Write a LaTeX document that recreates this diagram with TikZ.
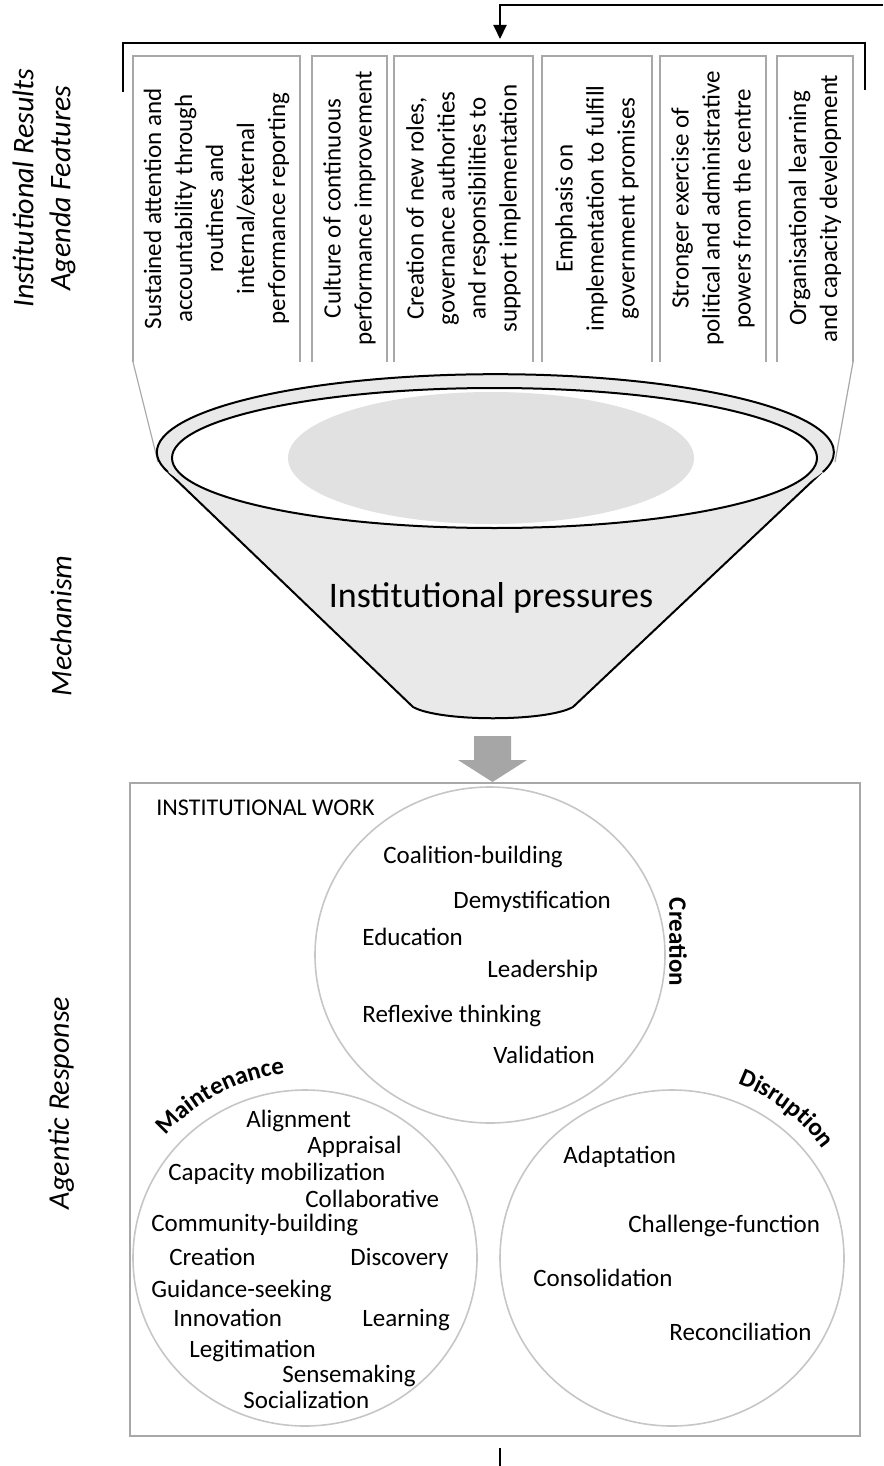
\documentclass[tikz,border=0pt]{standalone}
\usepackage{fontspec}
\setmainfont{Carlito}
\usetikzlibrary{arrows.meta,decorations.text}

\definecolor{funnelfill}{HTML}{E9E9E9}
\definecolor{poolfill}{HTML}{E1E1E1}
\definecolor{boxline}{HTML}{A8A8A8}
\definecolor{ringline}{HTML}{C6C6C6}
\definecolor{pushgray}{HTML}{A6A6A6}

\tikzset{
  featbox/.style={draw=boxline, line width=1pt},
  feattext/.style={rotate=90, align=center, inner sep=0pt,
    font=\fontsize{12.5}{15.5}\selectfont},
  rowlabel/.style={rotate=90, align=center, inner sep=0pt,
    font=\fontsize{15}{18.5}\selectfont\itshape},
  work/.style={anchor=base west, inner sep=0pt,
    font=\fontsize{12.5}{15}\selectfont},
  ring/.style={draw=ringline, line width=0.8pt},
  arclabel/.style={decorate, decoration={text along path, text align=center,
    text={|\fontsize{12.5}{15}\selectfont\bfseries|#1}}},
}

\begin{document}
\begin{tikzpicture}[x=0.5pt, y=0.5pt]
  \useasboundingbox (0,0) rectangle (883,-1466);

  \def\boxTop{-56}
  \def\boxBot{-362}
  \def\boxMid{-208.5}

  % feedback line coming back into the bracket
  \coordinate (loop) at (883,-5);
  \coordinate (brkin) at (500,-39);
  \draw[line width=1pt, -{Triangle[length=7pt,width=6.5pt]}] (loop) -| (brkin);

  % bracket over the feature boxes
  \draw[line width=1.3pt] (123,-92) |- (865,-43) -- (865,-90);

  % row labels
  \node[rowlabel] (lblres) at (44,-188) {Institutional Results\\Agenda Features};
  \node[rowlabel] (lblmech) at (61,-626) {Mechanism};
  \node[rowlabel] (lblagent) at (61,-1103) {Agentic Response};

  % agenda features (open at the bottom)
  \draw[featbox] (133,\boxBot) |- (300,\boxTop) -- (300,\boxBot);
  \node[feattext] (feat1) at (216.5,\boxMid)
    {Sustained attention and\\accountability through\\routines and\hspace*{1.9em}\\internal/external\hspace*{2.6em}\\performance reporting};
  \draw[featbox] (312,\boxBot) |- (387,\boxTop) -- (387,\boxBot);
  \node[feattext] (feat2) at (349.5,\boxMid)
    {Culture of continuous\\performance improvement};
  \draw[featbox] (394,\boxBot) |- (533,\boxTop) -- (533,\boxBot);
  \node[feattext] (feat3) at (463.5,\boxMid)
    {Creation of new roles,\\governance authorities\\and responsibilities to\\support implementation};
  \draw[featbox] (542,\boxBot) |- (652,\boxTop) -- (652,\boxBot);
  \node[feattext] (feat4) at (597,\boxMid)
    {Emphasis on\\implementation to fulfill\\government promises};
  \draw[featbox] (660,\boxBot) |- (766,\boxTop) -- (766,\boxBot);
  \node[feattext] (feat5) at (713,\boxMid)
    {Stronger exercise of\\political and administrative\\powers from the centre};
  \draw[featbox] (777,\boxBot) |- (853,\boxTop) -- (853,\boxBot);
  \node[feattext] (feat6) at (815,\boxMid)
    {Organisational learning\\and capacity development};

  % spill lines down to the rim
  \draw[boxline, line width=0.6pt] (133,\boxBot) -- (158,-462);
  \draw[boxline, line width=0.6pt] (853,\boxBot) -- (835,-462);

  % funnel body
  \fill[funnelfill] (168,-472) -- (413,-707)
    .. controls (440,-722) and (546,-722) .. (573,-707) -- (822,-472) -- cycle;
  \draw[line width=1pt] (168,-472) -- (413,-707)
    .. controls (440,-722) and (546,-722) .. (573,-707) -- (822,-472);

  % rim (only its upper edge is outlined) and opening
  \fill[funnelfill] (495.5,-452) ellipse [x radius=338.5, y radius=78];
  \draw[line width=1pt] (168,-472)
    arc [start angle=194.7, end angle=-14.7, x radius=338.5, y radius=78];
  \filldraw[fill=white, line width=1pt] (494.5,-458) ellipse [x radius=322.5, y radius=70];
  \fill[poolfill] (491,-458) ellipse [x radius=203, y radius=66];
  \node[anchor=base, inner sep=0pt, font=\fontsize{18}{22}\selectfont] (press)
    at (491,-607) {Institutional pressures};

  % push arrow into the work box
  \coordinate (pushtop) at (492.5,-736);
  \fill[pushgray] (pushtop) ++(-18.5,0) -- ++(37,0) -- ++(0,-24) -- ++(16,0)
    -- ++(-34.5,-22) -- ++(-34.5,22) -- ++(16,0) -- cycle;

  % institutional work box
  \draw[draw=boxline, line width=1pt] (130,-783) rectangle (860,-1436);
  \node[anchor=base west, inner sep=0pt, font=\fontsize{12}{14}\selectfont] (worktitle)
    at (156,-815) {INSTITUTIONAL WORK};

  \coordinate (crc) at (490,-955);
  \coordinate (mnc) at (305,-1258);
  \coordinate (dsc) at (672,-1258);
  \draw[ring] (crc) ellipse [x radius=175, y radius=168];
  \draw[ring] (mnc) ellipse [x radius=172, y radius=168];
  \draw[ring] (dsc) ellipse [x radius=172, y radius=168];

  % creation
  \node[rotate=-90, inner sep=0pt, font=\fontsize{12.5}{15}\selectfont\bfseries] (crlabel)
    at (678,-942) {Creation};
  \node[work] (cr1) at (383,-863) {Coalition-building};
  \node[work] (cr2) at (453,-908) {Demystification};
  \node[work] (cr3) at (362,-945) {Education};
  \node[work] (cr4) at (487,-977) {Leadership};
  \node[work] (cr5) at (362,-1022) {Reflexive thinking};
  \node[work] (cr6) at (493,-1063) {Validation};

  % maintenance
  \path[arclabel=Maintenance] (mnc) ++(150:185) arc[start angle=150, end angle=85, radius=185];
  \node[work] (mn1) at (246,-1127) {Alignment};
  \node[work] (mn2) at (307,-1153) {Appraisal};
  \node[work] (mn3) at (168,-1180) {Capacity mobilization};
  \node[work] (mn4) at (305,-1207) {Collaborative};
  \node[work] (mn5) at (151,-1231) {Community-building};
  \node[work] (mn6) at (169,-1265) {Creation};
  \node[work] (mn7) at (350,-1265) {Discovery};
  \node[work] (mn8) at (151,-1297) {Guidance-seeking};
  \node[work] (mn9) at (173,-1326) {Innovation};
  \node[work] (mn10) at (362,-1326) {Learning};
  \node[work] (mn11) at (189,-1357) {Legitimation};
  \node[work] (mn12) at (282,-1382) {Sensemaking};
  \node[work] (mn13) at (243,-1408) {Socialization};

  % disruption
  \path[arclabel=Disruption] (dsc) ++(75:186) arc[start angle=75, end angle=30, radius=186];
  \node[work] (ds1) at (563,-1163) {Adaptation};
  \node[work] (ds2) at (628,-1232) {Challenge-function};
  \node[work] (ds3) at (533,-1286) {Consolidation};
  \node[work] (ds4) at (669,-1340) {Reconciliation};

  % outgoing line
  \coordinate (tailtop) at (500,-1448);
  \coordinate (tailend) at (500,-1466);
  \draw[line width=0.8pt] (tailtop) -- (tailend);

\end{tikzpicture}
\end{document}
